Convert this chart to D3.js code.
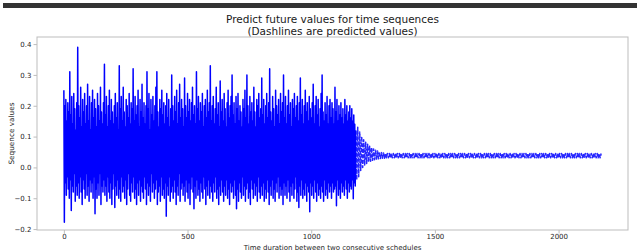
<!DOCTYPE html>
<html>
<head>
<meta charset="utf-8">
<script src="https://cdn.jsdelivr.net/npm/d3@7/dist/d3.min.js"></script>
<style>
  html, body { margin: 0; padding: 0; background: #fff; }
  svg { display: block; font-family: "DejaVu Sans", sans-serif; }
</style>
</head>
<body>
<svg id="chart" width="637" height="252"></svg>
<script>
// ---- Data ----
const titleLines = ["Predict future values for time sequences", "(Dashlines are predicted values)"];
const xLabel = "Time duration between two consecutive schedules";
const yLabel = "Sequence values";
const xTicks = [0, 500, 1000, 1500, 2000];
const yTicks = [-0.2, -0.1, 0.0, 0.1, 0.2, 0.3, 0.4];

// observed sequence, sampled every 2 time steps starting at 0
const actualStep = 2;
const actualStart = 0;
const actualValues = [
  0.25,-0.178,0.2,-0.05,0.22,-0.09,0.15,-0.03,0.21,-0.07,0.18,-0.1,0.31,-0.04,0.17,-0.14,0.23,-0.06,0.14,-0.08,
  0.24,-0.02,0.19,-0.11,0.12,-0.06,0.21,-0.09,0.39,-0.05,0.2,-0.1,0.16,-0.03,0.26,-0.08,0.13,-0.12,0.22,-0.04,
  0.18,-0.07,0.24,-0.1,0.14,-0.02,0.2,-0.09,0.27,-0.06,0.15,-0.11,0.23,-0.04,0.12,-0.08,0.21,-0.05,0.25,-0.1,
  0.16,-0.03,0.22,-0.15,0.19,-0.07,0.13,-0.1,0.24,-0.05,0.2,-0.09,0.15,-0.02,0.26,-0.12,0.18,-0.06,0.14,-0.08,
  0.21,-0.04,0.335,-0.09,0.17,-0.06,0.23,-0.11,0.13,-0.03,0.2,-0.08,0.25,-0.1,0.15,-0.05,0.22,-0.12,0.18,-0.07,
  0.14,-0.02,0.2,-0.13,0.24,-0.06,0.16,-0.09,0.21,-0.04,0.12,-0.1,0.33,-0.07,0.19,-0.11,0.23,-0.03,0.15,-0.08,
  0.26,-0.06,0.18,-0.1,0.13,-0.04,0.22,-0.12,0.2,-0.07,0.16,-0.02,0.24,-0.09,0.14,-0.11,0.21,-0.05,0.19,-0.08,
  0.32,-0.03,0.15,-0.1,0.23,-0.07,0.17,-0.12,0.2,-0.05,0.25,-0.09,0.13,-0.04,0.22,-0.11,0.18,-0.06,0.27,-0.08,
  0.16,-0.1,0.21,-0.03,0.14,-0.07,0.2,-0.12,0.31,-0.05,0.19,-0.09,0.24,-0.06,0.12,-0.11,0.22,-0.02,0.17,-0.08,
  0.23,-0.05,0.15,-0.1,0.2,-0.07,0.26,-0.04,0.31,-0.12,0.18,-0.08,0.13,-0.06,0.22,-0.11,0.19,-0.03,0.25,-0.09,
  0.17,-0.07,0.21,-0.1,0.14,-0.05,0.2,-0.158,0.24,-0.06,0.16,-0.09,0.22,-0.03,0.13,-0.11,0.19,-0.08,0.3,-0.06,
  0.2,-0.1,0.15,-0.04,0.23,-0.08,0.18,-0.12,0.25,-0.06,0.14,-0.09,0.21,-0.02,0.27,-0.11,0.16,-0.07,0.22,-0.05,
  0.19,-0.09,0.13,-0.06,0.29,-0.11,0.2,-0.04,0.16,-0.08,0.24,-0.1,0.18,-0.05,0.22,-0.12,0.15,-0.07,0.21,-0.03,
  0.26,-0.08,0.17,-0.134,0.2,-0.06,0.14,-0.1,0.31,-0.04,0.19,-0.09,0.23,-0.07,0.15,-0.11,0.21,-0.05,0.18,-0.08,
  0.24,-0.1,0.13,-0.03,0.2,-0.07,0.22,-0.12,0.16,-0.06,0.25,-0.09,0.18,-0.04,0.21,-0.1,0.33,-0.06,0.15,-0.08,
  0.2,-0.11,0.23,-0.05,0.14,-0.08,0.19,-0.03,0.26,-0.1,0.17,-0.07,0.21,-0.12,0.13,-0.06,0.28,-0.09,0.18,-0.04,
  0.22,-0.08,0.15,-0.11,0.24,-0.06,0.19,-0.09,0.13,-0.04,0.21,-0.1,0.25,-0.07,0.16,-0.12,0.2,-0.05,0.23,-0.08,
  0.3,-0.06,0.17,-0.1,0.21,-0.04,0.14,-0.09,0.23,-0.134,0.19,-0.07,0.24,-0.11,0.15,-0.05,0.2,-0.08,0.18,-0.1,
  0.13,-0.03,0.22,-0.09,0.19,-0.06,0.25,-0.11,0.16,-0.07,0.3,-0.05,0.2,-0.1,0.14,-0.08,0.23,-0.12,0.18,-0.04,
  0.21,-0.07,0.15,-0.1,0.26,-0.05,0.18,-0.09,0.13,-0.06,0.22,-0.11,0.2,-0.03,0.24,-0.08,0.16,-0.1,0.19,-0.06,
  0.29,-0.09,0.17,-0.05,0.22,-0.11,0.14,-0.07,0.2,-0.1,0.24,-0.04,0.16,-0.08,0.21,-0.12,0.32,-0.06,0.18,-0.09,
  0.15,-0.04,0.23,-0.1,0.19,-0.07,0.13,-0.11,0.25,-0.05,0.2,-0.08,0.17,-0.03,0.22,-0.1,0.14,-0.06,0.24,-0.09,
  0.18,-0.07,0.21,-0.12,0.3,-0.05,0.16,-0.09,0.23,-0.06,0.14,-0.1,0.2,-0.04,0.25,-0.08,0.17,-0.11,0.21,-0.06,
  0.13,-0.09,0.22,-0.05,0.19,-0.1,0.24,-0.07,0.16,-0.03,0.2,-0.11,0.23,-0.08,0.15,-0.13,0.21,-0.06,0.29,-0.09,
  0.17,-0.04,0.22,-0.1,0.14,-0.07,0.2,-0.09,0.25,-0.05,0.18,-0.11,0.21,-0.06,0.15,-0.08,0.23,-0.144,0.19,-0.05,
  0.16,-0.09,0.21,-0.06,0.27,-0.1,0.14,-0.04,0.2,-0.08,0.23,-0.11,0.17,-0.05,0.22,-0.09,0.13,-0.07,0.19,-0.1,
  0.24,-0.06,0.3,-0.08,0.18,-0.11,0.15,-0.04,0.21,-0.09,0.17,-0.07,0.23,-0.1,0.14,-0.05,0.2,-0.08,0.22,-0.06,
  0.16,-0.1,0.21,-0.05,0.19,-0.08,0.14,-0.07,0.26,-0.06,0.18,-0.124,0.22,-0.04,0.15,-0.09,0.2,-0.07,0.17,-0.1,
  0.21,-0.05,0.16,-0.08,0.19,-0.06,0.14,-0.09,0.22,-0.04,0.17,-0.07,0.2,-0.1,0.15,-0.05,0.18,-0.08,0.2,-0.06,
  0.16,-0.07,0.19,-0.04,0.15,-0.102,0.17,-0.05,0.14,-0.06,0.12
];

// predicted sequence, sampled every 4 time steps starting at 1180
const predictedStep = 4;
const predictedStart = 1180;
const predictedValues = [
  0.12,-0.04,0.13,-0.03,0.115,-0.01,0.1,0.0,0.09,0.008,0.082,0.013,0.075,0.017,0.069,0.02,0.064,0.023,0.06,0.025,
  0.056,0.027,0.053,0.028,0.05,0.029,0.048,0.03,0.047,0.03,
  0.045,0.031,0.045,0.031,0.045,0.031,0.045,0.031,0.045,0.031,0.045,0.031,0.045,0.031,0.045,0.031,0.045,0.031,0.045,0.031,
  0.045,0.031,0.045,0.031,0.045,0.031,0.045,0.031,0.045,0.031,0.045,0.031,0.045,0.031,0.045,0.031,0.045,0.031,0.045,0.031,
  0.045,0.031,0.045,0.031,0.045,0.031,0.045,0.031,0.045,0.031,0.045,0.031,0.045,0.031,0.045,0.031,0.045,0.031,0.045,0.031,
  0.045,0.031,0.045,0.031,0.045,0.031,0.045,0.031,0.045,0.031,0.045,0.031,0.045,0.031,0.045,0.031,0.045,0.031,0.045,0.031,
  0.045,0.031,0.045,0.031,0.045,0.031,0.045,0.031,0.045,0.031,0.045,0.031,0.045,0.031,0.045,0.031,0.045,0.031,0.045,0.031,
  0.045,0.031,0.045,0.031,0.045,0.031,0.045,0.031,0.045,0.031,0.045,0.031,0.045,0.031,0.045,0.031,0.045,0.031,0.045,0.031,
  0.045,0.031,0.045,0.031,0.045,0.031,0.045,0.031,0.045,0.031,0.045,0.031,0.045,0.031,0.045,0.031,0.045,0.031,0.045,0.031,
  0.045,0.031,0.045,0.031,0.045,0.031,0.045,0.031,0.045,0.031,0.045,0.031,0.045,0.031,0.045,0.031,0.045,0.031,0.045,0.031,
  0.045,0.031,0.045,0.031,0.045,0.031,0.045,0.031,0.045,0.031,0.045,0.031,0.045,0.031,0.045,0.031,0.045,0.031,0.045,0.031,
  0.045,0.031,0.045,0.031,0.045,0.031,0.045,0.031,0.045,0.031,0.045,0.031,0.045,0.031,0.045,0.031,0.045,0.031,0.045,0.031,
  0.045,0.031,0.045,0.031,0.045,0.031,0.045,0.031,0.045,0.031,0.045,0.031,0.045,0.031,0.045,0.031,0.045,0.031,0.045
];

// ---- Build points ----
const actual = actualValues.map((v, i) => ({ t: actualStart + i * actualStep, v }));
const predicted = predictedValues.map((v, i) => ({ t: predictedStart + i * predictedStep, v }));

const svg = d3.select("#chart");
const W = 637, H = 252;
const plot = { left: 37, right: 628, top: 37, bottom: 230 };

// top dark band
svg.append("rect").attr("x", 3).attr("y", 3).attr("width", W - 3).attr("height", 5).attr("fill", "#333333");

const tMax = predicted[predicted.length - 1].t;
const pad = tMax * 0.05;
const x = d3.scaleLinear().domain([-pad, tMax + pad]).range([plot.left, plot.right]);
const y = d3.scaleLinear().domain([-0.203, 0.423]).range([plot.bottom, plot.top]);

svg.append("clipPath").attr("id", "clip").append("rect")
  .attr("x", plot.left).attr("y", plot.top)
  .attr("width", plot.right - plot.left).attr("height", plot.bottom - plot.top);

const line = d3.line().x(d => x(d.t)).y(d => y(d.v));

const g = svg.append("g").attr("clip-path", "url(#clip)");
g.append("path").datum(actual).attr("d", line)
  .attr("fill", "none").attr("stroke", "#0000ff").attr("stroke-width", 1.5).attr("stroke-linejoin", "round");
g.append("path").datum(predicted).attr("d", line)
  .attr("fill", "none").attr("stroke", "#0000ff").attr("stroke-width", 1.5).attr("stroke-opacity", 0.85)
  .attr("stroke-dasharray", "4,1.5").attr("stroke-linejoin", "round");

// frame
svg.append("rect").attr("x", plot.left).attr("y", plot.top)
  .attr("width", plot.right - plot.left).attr("height", plot.bottom - plot.top)
  .attr("fill", "none").attr("stroke", "#bdbdbd").attr("stroke-width", 1);

const fmtY = v => d3.format(".1f")(v).replace("-", "\u2212");

const xAxis = svg.append("g").attr("transform", `translate(0,${plot.bottom})`)
  .call(d3.axisBottom(x).tickValues(xTicks).tickSize(3.5).tickPadding(1).tickFormat(d3.format("d")));
const yAxis = svg.append("g").attr("transform", `translate(${plot.left},0)`)
  .call(d3.axisLeft(y).tickValues(yTicks).tickSize(3.5).tickPadding(2).tickFormat(fmtY));
[xAxis, yAxis].forEach(a => {
  a.select(".domain").remove();
  a.selectAll("line").attr("stroke", "#bdbdbd");
  a.selectAll("text").attr("fill", "#262626").style("font-size", "7px").style("font-family", "DejaVu Sans");
});

svg.append("text").attr("x", (plot.left + plot.right) / 2).attr("y", 249.5)
  .attr("text-anchor", "middle").attr("fill", "#262626").style("font-size", "7px").text(xLabel);
svg.append("text").attr("transform", `translate(14,${(plot.top + plot.bottom) / 2}) rotate(-90)`)
  .attr("text-anchor", "middle").attr("fill", "#262626").style("font-size", "7.3px").text(yLabel);

svg.selectAll(".title").data(titleLines).enter().append("text").attr("class", "title")
  .attr("x", (plot.left + plot.right) / 2).attr("y", (d, i) => 23 + i * 12)
  .attr("text-anchor", "middle").attr("fill", "#1a1a1a").style("font-size", "10.5px").text(d => d);
</script>
</body>
</html>
